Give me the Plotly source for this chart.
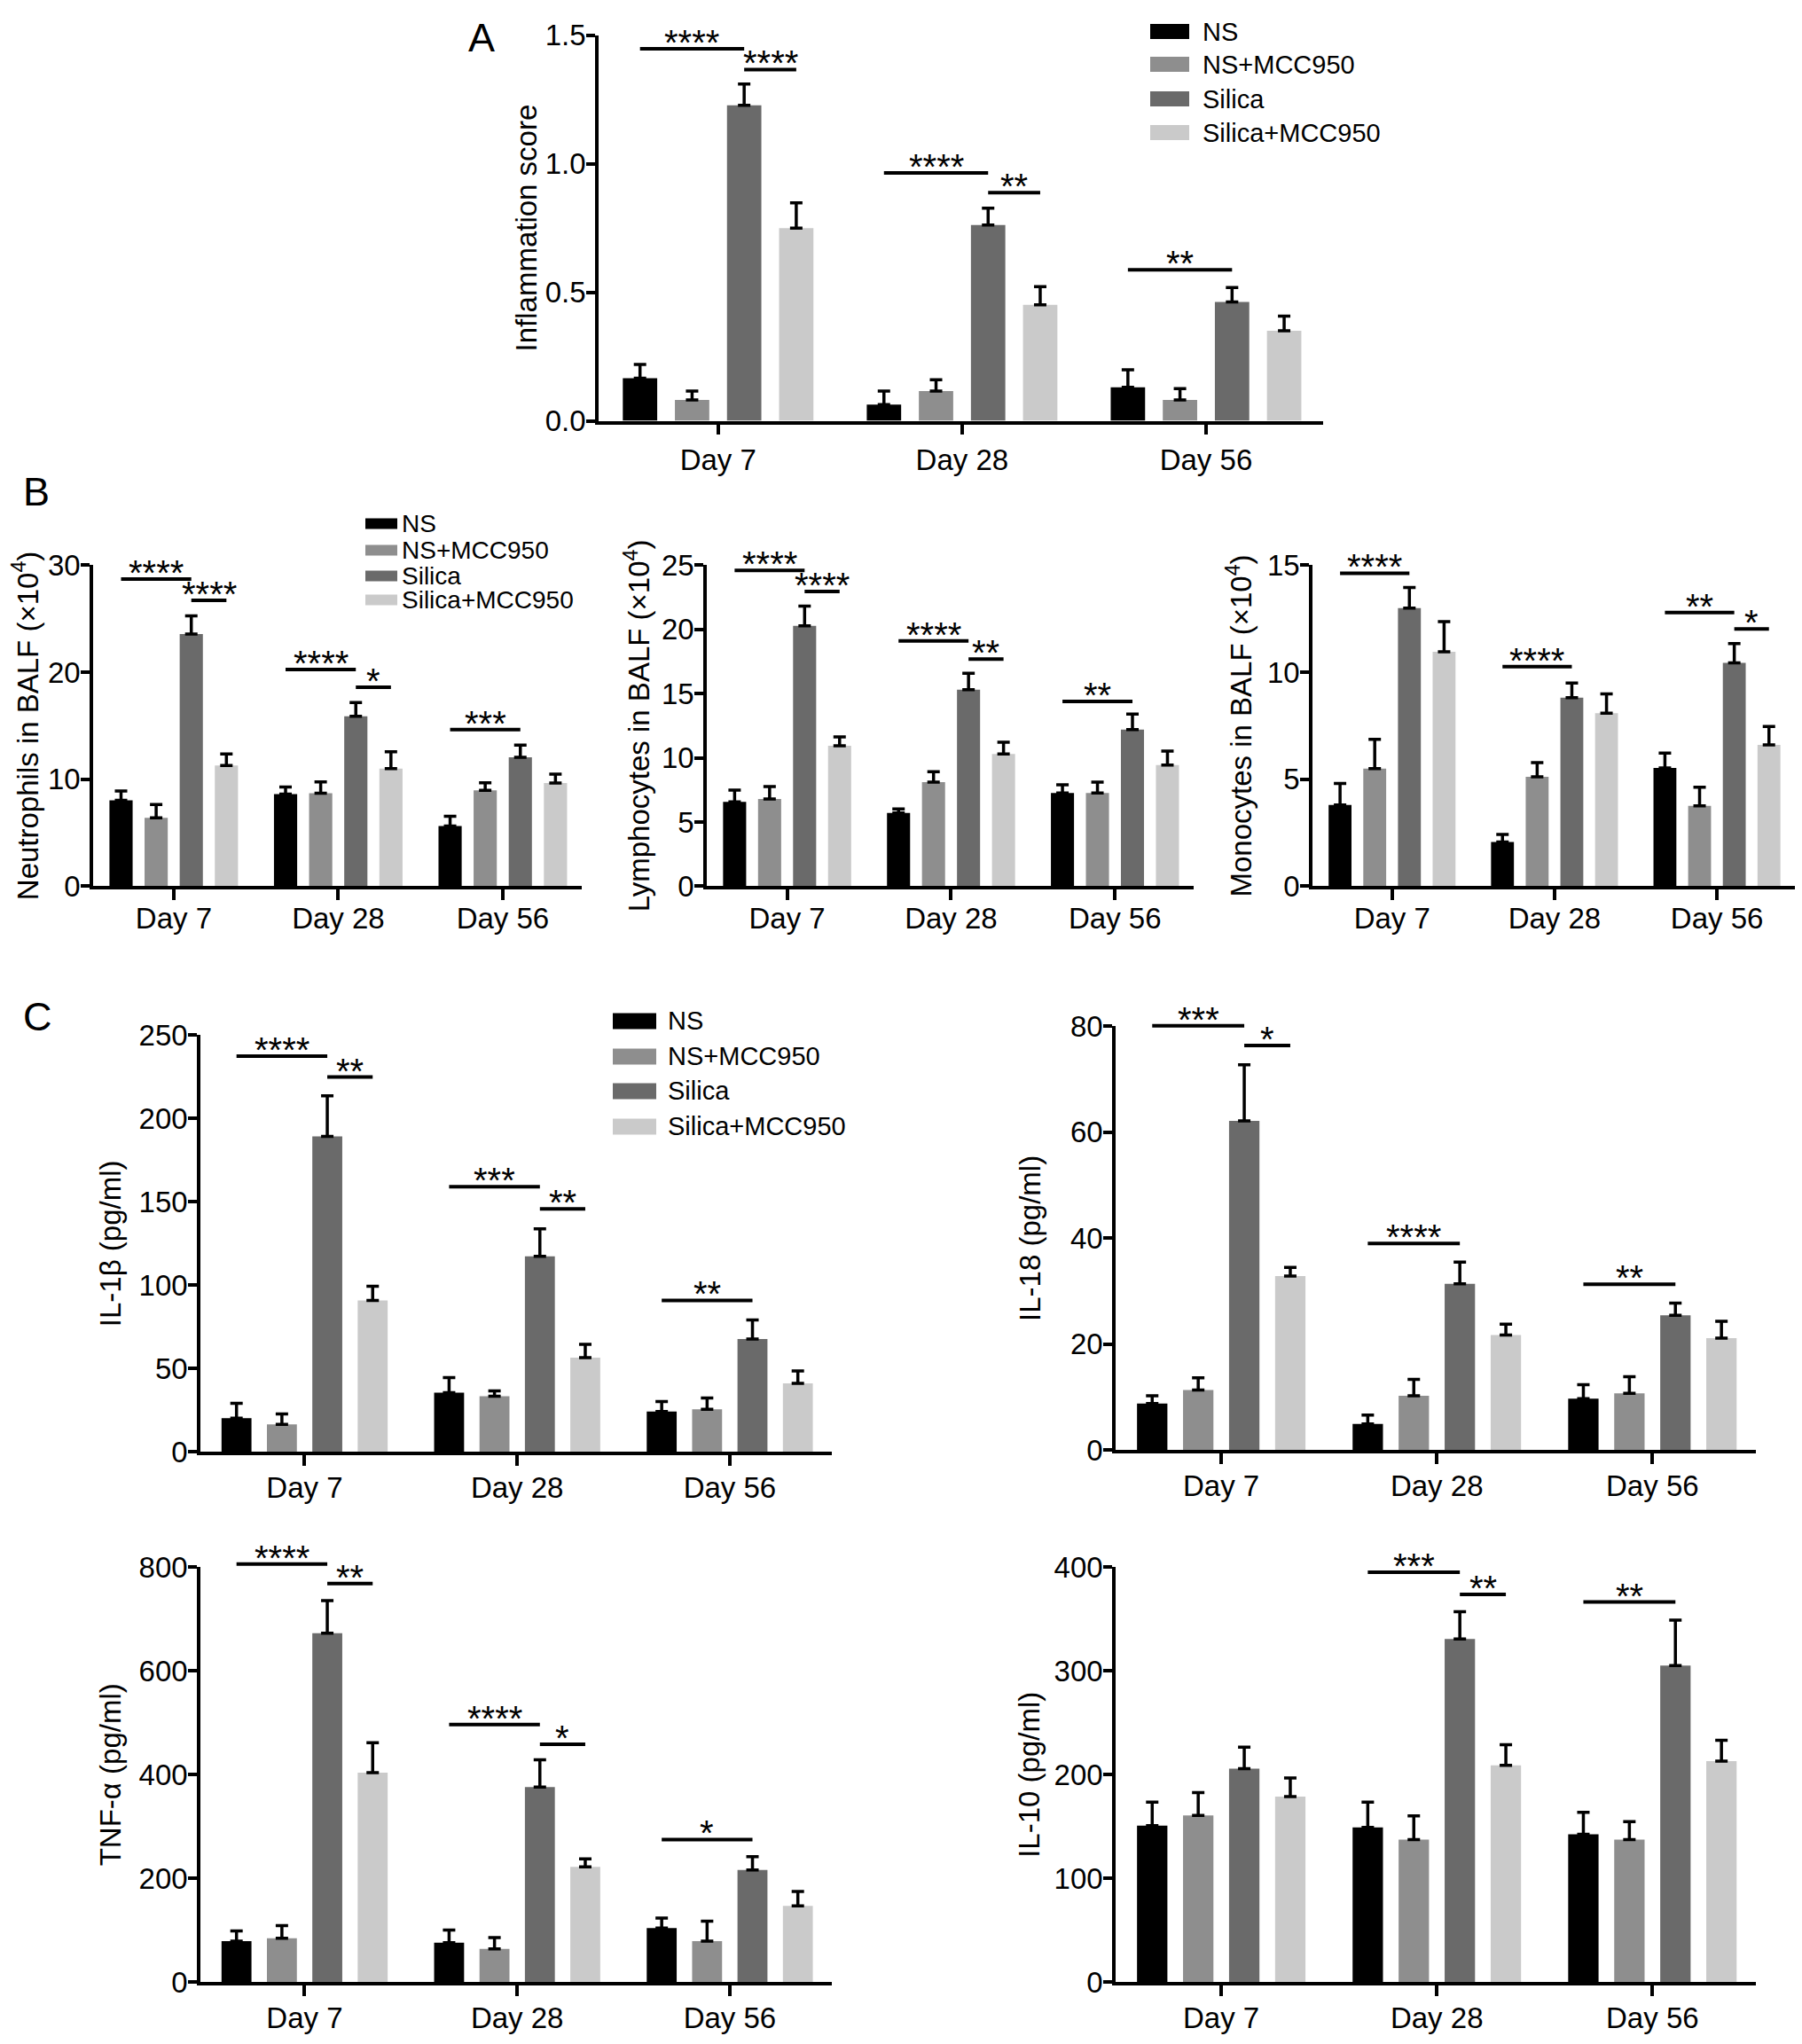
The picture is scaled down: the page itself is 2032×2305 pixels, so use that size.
import plotly.graph_objects as go

# page body has an 8px default margin, so the figure is drawn inside it
WIN_W, WIN_H = 2032, 2305
OFF = 8
FW, FH = WIN_W - 2 * OFF, WIN_H - 2 * OFF
# measured mapping from figure y (px) to picture y (px) in the screenshot
Y_SCALE, Y_SHIFT = 0.984, 27.4

days = ["Day 7", "Day 28", "Day 56"]
groups = ["NS", "NS+MCC950", "Silica", "Silica+MCC950"]
colors = ["#000000", "#8e8e8e", "#6a6a6a", "#cacaca"]

# ---- Panel A: inflammation score (rows = groups, cols = days)
infl_mean = [[0.166, 0.063, 0.130], [0.081, 0.116, 0.081], [1.227, 0.761, 0.462], [0.749, 0.451, 0.350]]
infl_sem = [[0.053, 0.053, 0.068], [0.035, 0.044, 0.044], [0.083, 0.066, 0.056], [0.099, 0.071, 0.057]]
infl_sig = [(0, 0, 2, 1.447, "****"), (0, 2, 3, 1.366, "****"), (1, 0, 2, 0.964, "****"),
            (1, 2, 3, 0.887, "**"), (2, 0, 2, 0.587, "**")]

# ---- Panel B: BALF cells (x10^4)
neu_mean = [[8.04, 8.61, 5.63], [6.40, 8.70, 8.96], [23.57, 15.88, 12.06], [11.28, 11.00, 9.65]]
neu_sem = [[0.86, 0.66, 0.92], [1.24, 1.06, 0.72], [1.70, 1.29, 1.14], [1.09, 1.58, 0.83]]
neu_sig = [(0, 0, 2, 28.71, "****"), (0, 2, 3, 26.73, "****"), (1, 0, 2, 20.27, "****"),
           (1, 2, 3, 18.6, "*"), (2, 0, 2, 14.64, "***")]

lym_mean = [[6.57, 5.71, 7.26], [6.80, 8.11, 7.26], [20.28, 15.32, 12.21], [10.94, 10.30, 9.45]]
lym_sem = [[0.92, 0.32, 0.65], [0.97, 0.81, 0.85], [1.54, 1.27, 1.20], [0.69, 0.92, 1.08]]
lym_sig = [(0, 0, 2, 24.61, "****"), (0, 2, 3, 22.97, "****"), (1, 0, 2, 19.12, "****"),
           (1, 2, 3, 17.7, "**"), (2, 0, 2, 14.4, "**")]

mono_mean = [[3.80, 2.07, 5.53], [5.50, 5.12, 3.76], [13.00, 8.81, 10.44], [10.96, 8.09, 6.61]]
mono_sem = [[1.01, 0.35, 0.69], [1.37, 0.66, 0.87], [0.96, 0.69, 0.90], [1.41, 0.90, 0.86]]
mono_sig = [(0, 0, 2, 14.63, "****"), (1, 0, 2, 10.27, "****"), (2, 0, 2, 12.79, "**"),
            (2, 2, 3, 12.03, "*")]

# ---- Panel C: cytokines (pg/ml)
il1b_mean = [[20.3, 35.5, 24.3], [16.5, 33.4, 25.6], [189.3, 117.3, 67.8], [90.9, 56.6, 41.2]]
il1b_sem = [[8.9, 9.1, 5.9], [6.3, 3.2, 6.8], [24.3, 16.5, 11.4], [8.5, 8.0, 7.4]]
il1b_sig = [(0, 0, 2, 237.5, "****"), (0, 2, 3, 224.9, "**"), (1, 0, 2, 159.1, "***"),
            (1, 2, 3, 145.8, "**"), (2, 0, 2, 90.9, "**")]

il18_mean = [[8.79, 4.96, 9.72], [11.37, 10.25, 10.71], [62.15, 31.4, 25.45], [32.86, 21.75, 21.16]]
il18_sem = [[1.46, 1.65, 2.64], [2.3, 3.1, 3.17], [10.6, 4.1, 2.3], [1.65, 2.05, 3.17]]
il18_sig = [(0, 0, 2, 80.1, "***"), (0, 2, 3, 76.4, "*"), (1, 0, 2, 39.0, "****"),
            (2, 0, 2, 31.3, "**")]

tnf_mean = [[79.1, 75.9, 104.2], [84.4, 64.0, 79.1], [672.8, 376.0, 216.4], [403.7, 222.3, 147.1]]
tnf_sem = [[19.8, 24.4, 19.2], [24.4, 21.8, 38.3], [62.7, 52.8, 25.7], [58.0, 15.2, 27.7]]
tnf_sig = [(0, 0, 2, 806, "****"), (0, 2, 3, 768.5, "**"), (1, 0, 2, 496.7, "****"),
           (1, 2, 3, 458.4, "*"), (2, 0, 2, 275, "*")]

il10_mean = [[150.8, 149.1, 142.6], [160.7, 137.3, 137.3], [205.8, 330.9, 305.2], [178.8, 209.1, 213.0]]
il10_sem = [[22.7, 24.4, 21.0], [22.0, 23.0, 17.4], [20.7, 26.3, 43.8], [18.1, 19.7, 20.1]]
il10_sig = [(1, 0, 2, 395.1, "***"), (1, 2, 3, 373.7, "**"), (2, 0, 2, 366.4, "**")]

FONT = "Liberation Sans, Arial, Helvetica, sans-serif"
BARGAP = 0.146
BARGROUPGAP = 0.34


def fx(px):
    return min(1.0, max(0.0, (px - OFF) / FW))


def fy(py):
    fig_y = (py - Y_SHIFT) / Y_SCALE
    return min(1.0, max(0.0, 1 - fig_y / FH))


# layout boxes in picture pixels: (left, right, top, bottom)
panels = [
    dict(mean=infl_mean, sem=infl_sem, sig=infl_sig, title="Inflammation score",
         rng=[0, 1.5], dtick=0.5, fmt=".1f", box=(675, 1492, 41, 476), standoff=0, xlab=0),
    dict(mean=neu_mean, sem=neu_sem, sig=neu_sig, title="Neutrophils in BALF (\u00d710<sup>4</sup>)",
         rng=[0, 30], dtick=10, fmt="d", box=(105, 656, 639, 1001), standoff=9, xlab=-8),
    dict(mean=lym_mean, sem=lym_sem, sig=lym_sig, title="Lymphocytes in BALF (\u00d710<sup>4</sup>)",
         rng=[0, 25], dtick=5, fmt="d", box=(797, 1346, 639, 1001), standoff=4, xlab=-8),
    dict(mean=mono_mean, sem=mono_sem, sig=mono_sig, title="Monocytes in BALF (\u00d710<sup>4</sup>)",
         rng=[0, 15], dtick=5, fmt="d", box=(1480, 2025, 639, 1001), standoff=8, xlab=-8),
    dict(mean=il1b_mean, sem=il1b_sem, sig=il1b_sig, title="IL-1\u03b2 (pg/ml)",
         rng=[0, 250], dtick=50, fmt="d", box=(226, 938, 1169, 1639), standoff=11, xlab=-4),
    dict(mean=il18_mean, sem=il18_sem, sig=il18_sig, title="IL-18 (pg/ml)",
         rng=[0, 80], dtick=20, fmt="d", box=(1258, 1980, 1159, 1637), standoff=24, xlab=-4),
    dict(mean=tnf_mean, sem=tnf_sem, sig=tnf_sig, title="TNF-\u03b1 (pg/ml)",
         rng=[0, 800], dtick=200, fmt="d", box=(226, 938, 1769, 2237), standoff=11, xlab=-4),
    dict(mean=il10_mean, sem=il10_sem, sig=il10_sig, title="IL-10 (pg/ml)",
         rng=[0, 400], dtick=100, fmt="d", box=(1258, 1980, 1769, 2237), standoff=7, xlab=-4),
]

xpos = list(range(len(days)))
slot = (1 - BARGAP) / len(groups)
offsets = [(k - (len(groups) - 1) / 2) * slot for k in range(len(groups))]

fig = go.Figure()
annotations = []
shapes = []
layout = {}

for i, p in enumerate(panels):
    n = "" if i == 0 else str(i + 1)
    xa, ya = "x" + n, "y" + n
    l, r, t, b = p["box"]
    dom_y = [fy(b), fy(t)]
    r0, r1 = p["rng"]
    for j, g in enumerate(groups):
        fig.add_trace(go.Bar(
            x=xpos, y=p["mean"][j], name=g, showlegend=False,
            marker=dict(color=colors[j], line=dict(width=0)),
            error_y=dict(type="data", array=p["sem"][j], arrayminus=[0] * len(days),
                         symmetric=False, color="black", thickness=3.5, width=7),
            xaxis=xa, yaxis=ya, offsetgroup=str(j)))
    # significance brackets (may sit above the top tick, so placed on the paper's y scale)
    for (d, a, bb, yv, lab) in p["sig"]:
        x0, x1 = xpos[d] + offsets[a], xpos[d] + offsets[bb]
        yp = dom_y[0] + (yv - r0) / (r1 - r0) * (dom_y[1] - dom_y[0])
        shapes.append(dict(type="line", xref=xa, yref="paper", x0=x0, x1=x1, y0=yp, y1=yp,
                           line=dict(color="black", width=4)))
        annotations.append(dict(
            x=(x0 + x1) / 2, y=yp, xref=xa, yref="paper", text=lab, showarrow=False,
            yanchor="bottom", yshift=-17, font=dict(size=40, color="black", family=FONT)))
    layout["xaxis" + n] = dict(
        domain=[fx(l), fx(r)], anchor=ya, range=[-0.49, 2.48], tickvals=xpos, ticktext=days,
        showline=True, linecolor="black", linewidth=3.5, ticks="outside", ticklen=12,
        tickwidth=3.5, tickcolor="black", showgrid=False, zeroline=False, fixedrange=True,
        ticklabelstandoff=p["xlab"], tickfont=dict(size=33, color="black", family=FONT))
    layout["yaxis" + n] = dict(
        domain=dom_y, anchor=xa, range=p["rng"], dtick=p["dtick"], tick0=0,
        tickformat=p["fmt"], showline=True, linecolor="black", linewidth=3.5,
        ticks="outside", ticklen=10, tickwidth=3.5, tickcolor="black", showgrid=False,
        zeroline=False, ticklabelstandoff=-6,
        tickfont=dict(size=33, color="black", family=FONT),
        title=dict(text=p["title"], standoff=p["standoff"],
                   font=dict(size=33, color="black", family=FONT)))

# legends (A, B, C)
legends = [
    dict(x0=1297, x1=1341, tx=1354, ys=[37, 74, 113, 151], h=17, size=29),
    dict(x0=412, x1=448, tx=451, ys=[592, 622, 651, 678], h=12, size=28),
    dict(x0=691, x1=740, tx=751, ys=[1153, 1193, 1232, 1272], h=18, size=29),
]
for lg in legends:
    for j, g in enumerate(groups):
        yc = lg["ys"][j]
        shapes.append(dict(type="rect", xref="paper", yref="paper",
                           x0=fx(lg["x0"]), x1=fx(lg["x1"]),
                           y0=fy(yc + lg["h"] / 2), y1=fy(yc - lg["h"] / 2),
                           fillcolor=colors[j], line=dict(width=0)))
        annotations.append(dict(x=fx(lg["tx"]), y=fy(yc), xref="paper", yref="paper",
                                text=g, showarrow=False, xanchor="left", yanchor="middle",
                                font=dict(size=lg["size"], color="black", family=FONT)))

# panel letters
for lab, (px_, py_) in {"A": (543, 44), "B": (41, 556), "C": (42, 1148)}.items():
    annotations.append(dict(x=fx(px_), y=fy(py_), xref="paper", yref="paper", text=lab,
                            showarrow=False, xanchor="center", yanchor="middle",
                            font=dict(size=45, color="black", family=FONT)))

fig.update_layout(
    width=FW, height=FH, margin=dict(l=0, r=0, t=0, b=0),
    paper_bgcolor="white", plot_bgcolor="white",
    barmode="group", bargap=BARGAP, bargroupgap=BARGROUPGAP,
    font=dict(family=FONT, color="black"),
    annotations=annotations, shapes=shapes, showlegend=False, **layout)

fig.write_html("out.html")
